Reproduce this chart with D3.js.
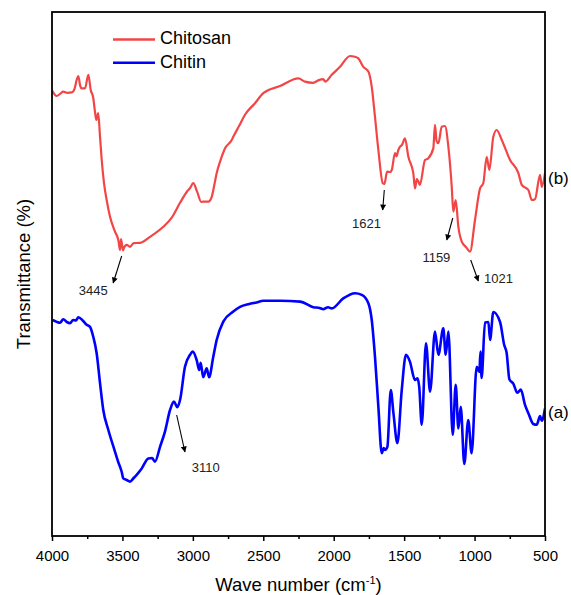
<!DOCTYPE html>
<html>
<head>
<meta charset="utf-8">
<script src="https://cdn.jsdelivr.net/npm/d3@7"></script>
<style>
  html, body { margin: 0; padding: 0; background: #fff; }
  svg { display: block; font-family: "Liberation Sans", Arial, sans-serif; }
</style>
</head>
<body>
<svg id="chart" width="571" height="595"></svg>
<script>
// FTIR spectra: wavenumber (cm-1) and transmittance (arbitrary offset, %)
const chitosanWave = [3998,3967,3940,3920,3890,3860,3840,3825,3813,3800,3790,3766,3742,3725,3707,3695,3685,3672,3659,3647,3631,3612,3588,3553,3529,3517,3510,3505,3495,3490,3470,3446,3420,3375,3304,3210,3150,3091,3040,3020,2997,2970,2940,2926,2890,2866,2843,2831,2807,2772,2724,2713,2670,2630,2559,2500,2381,2251,2204,2145,2110,2074,2060,2014,1955,1884,1850,1825,1790,1754,1730,1707,1683,1652,1640,1621,1600,1588,1565,1555,1541,1530,1515,1494,1470,1435,1423,1410,1399,1388,1352,1330,1293,1281,1270,1257,1233,1210,1186,1162,1151,1134,1115,1091,1060,1032,997,961,938,914,895,867,843,807,748,689,665,618,594,571,535,523,500];
const chitosanT = [111.3,110,110.6,111.1,110.8,110.9,111.8,114,115,112.6,111.9,111.9,115.3,111.5,109.5,106.1,104,105.7,99.8,94,88.3,84,79.8,76.1,74,71.5,74.2,73.3,71.4,72,72.8,72.3,73.2,73.3,74.8,77.3,79.6,83.3,86.2,87,88.2,86.1,83.5,83.6,83.6,84.8,88.6,90.7,93.6,96.9,99,99.8,102.6,105.3,108.2,110.7,112.5,114.4,113.6,113.3,113.9,114.2,113.6,115.3,117.3,120,119.8,119.4,117.3,116.1,112.3,104.8,96.5,88.2,88,91.1,91,91.5,95.7,94.9,96.5,97.3,97.8,99.4,94.8,90.7,86.9,89.2,88.6,87.8,94,94.4,96.9,102.8,98.8,98.2,102.3,102.5,97.3,87.3,81.1,84,77.3,73.6,72.2,71.1,79,86.9,88.2,94.8,91.5,99.8,101.5,99,94,90.7,87.8,86.5,84,84.2,90.3,87.3,90.7];

const chitinWave = [3995,3970,3943,3920,3895,3872,3850,3830,3813,3780,3754,3730,3707,3683,3659,3636,3600,3553,3540,3530,3517,3505,3494,3470,3446,3420,3399,3363,3316,3290,3269,3233,3198,3162,3134,3110,3091,3056,3020,3001,2973,2955,2945,2926,2902,2885,2855,2831,2784,2713,2665,2600,2547,2500,2381,2239,2145,2100,2074,2040,2014,1932,1849,1801,1754,1730,1707,1683,1659,1645,1636,1619,1595,1576,1548,1517,1487,1459,1423,1405,1393,1375,1345,1316,1281,1257,1222,1205,1186,1155,1134,1115,1098,1073,1045,1021,985,966,958,950,926,902,890,867,819,790,772,753,725,696,672,642,618,583,559,535,523,500];
const chitinT = [54,53.6,53.3,54.2,53.5,53.2,54,53.9,54.7,53.8,52.8,52.3,49.8,45.7,38.2,31.5,26.5,21.1,19.6,18.5,17.3,16,14.4,14,13.6,14.5,15.3,16.9,19.4,19.5,18.6,22.3,26.1,31.5,33.6,32.2,34,42.3,45.3,46.1,44,41.5,43.3,39.7,41.9,39.7,44.8,49,53.6,56.1,57.3,58,58.4,58.8,58.8,58.6,57.2,57,56.7,57.2,56.9,59.4,60.7,60.3,58.2,54,44.8,32.3,20.7,22,21.5,22.3,36.5,30.7,23.2,36.5,45.3,43.6,39,39.4,37.3,27.8,48.2,36.1,51.1,45.3,51.9,45.3,51.1,25.3,37.8,26.9,32.3,18,29,20.7,42.3,41,46.1,39.5,53.4,53.5,49,56,53.5,47.8,45.7,39.2,38.1,35.8,36.6,32.8,30.7,28,27.8,30,28.8,31.9];

const seriesNames = ["Chitosan", "Chitin"];
const seriesTags = ["(b)", "(a)"];
const xTicks = [4000, 3500, 3000, 2500, 2000, 1500, 1000, 500];
const peakLabels = ["3445", "1621", "1159", "1021", "3110"];

const colors = { Chitosan: "#F24646", Chitin: "#0000FF" };

const svg = d3.select("#chart");
const plot = { left: 52, right: 545, top: 12, bottom: 536 };

const x = d3.scaleLinear().domain([4000, 500]).range([plot.left, plot.right]);
const y = d3.scaleLinear().domain([0, 131]).range([plot.bottom, plot.top]);

const series = [
  { name: seriesNames[0], tag: seriesTags[0], pts: chitosanWave.map((w, i) => [w, chitosanT[i]]), width: 2.2, tagDy: 6.5 },
  { name: seriesNames[1], tag: seriesTags[1], pts: chitinWave.map((w, i) => [w, chitinT[i]]), width: 2.6, tagDy: 5.5 }
];

const defs = svg.append("defs");
defs.append("clipPath").attr("id", "clip")
  .append("rect")
  .attr("x", plot.left).attr("y", plot.top)
  .attr("width", plot.right - plot.left).attr("height", plot.bottom - plot.top);

const marker = defs.append("marker")
  .attr("id", "arrowhead")
  .attr("viewBox", "0 0 10 10")
  .attr("refX", 9).attr("refY", 5)
  .attr("markerWidth", 7).attr("markerHeight", 6)
  .attr("markerUnits", "userSpaceOnUse")
  .attr("orient", "auto");
marker.append("path").attr("d", "M0,0 L10,5 L0,10 Z").attr("fill", "#000");

const line = d3.line().x(d => x(d[0])).y(d => y(d[1])).curve(d3.curveMonotoneX);

svg.append("g").attr("clip-path", "url(#clip)")
  .selectAll("path").data(series).join("path")
  .attr("d", d => line(d.pts))
  .attr("fill", "none")
  .attr("stroke", d => colors[d.name])
  .attr("stroke-width", d => d.width)
  .attr("stroke-linejoin", "round");

// series tags at the right end
svg.selectAll("text.tag").data(series).join("text")
  .attr("class", "tag")
  .attr("x", plot.right + 3)
  .attr("y", d => y(d.pts[d.pts.length - 1][1]) + d.tagDy)
  .attr("dominant-baseline", "middle")
  .attr("font-size", 17)
  .text(d => d.tag);

// frame
svg.append("rect")
  .attr("x", plot.left).attr("y", plot.top)
  .attr("width", plot.right - plot.left).attr("height", plot.bottom - plot.top)
  .attr("fill", "none").attr("stroke", "#000").attr("stroke-width", 1.8);

// bottom axis with minor ticks
const minor = d3.range(4000, 499, -250).filter(v => !xTicks.includes(v));
svg.append("g").attr("transform", `translate(0,${plot.bottom})`)
  .call(d3.axisBottom(x).tickValues(minor).tickSize(3).tickFormat(""))
  .call(g => g.select(".domain").remove())
  .call(g => g.selectAll("line").attr("stroke-width", 1.5));
const xAxis = svg.append("g").attr("transform", `translate(0,${plot.bottom})`)
  .call(d3.axisBottom(x).tickValues(xTicks).tickSize(5).tickPadding(9).tickFormat(d3.format("d")));
xAxis.select(".domain").remove();
xAxis.selectAll("line").attr("stroke-width", 1.5);
xAxis.selectAll("text").attr("font-size", 15).attr("font-family", "Liberation Sans, Arial, sans-serif").attr("fill", "#000");

// axis titles
const xTitle = svg.append("text")
  .attr("x", (plot.left + plot.right) / 2).attr("y", 591)
  .attr("text-anchor", "middle").attr("font-size", 18.5);
xTitle.append("tspan").text("Wave number (cm");
xTitle.append("tspan").attr("font-size", 11).attr("dy", -7).text("-1");
xTitle.append("tspan").attr("dy", 7).text(")");

svg.append("text")
  .attr("transform", `translate(30,${(plot.top + plot.bottom) / 2}) rotate(-90)`)
  .attr("text-anchor", "middle").attr("font-size", 18.5)
  .text("Transmittance (%)");

// legend
const legend = svg.append("g");
seriesNames.forEach((name, i) => {
  const ly = 39.5 + i * 23.3;
  legend.append("line").attr("x1", 113).attr("x2", 155).attr("y1", ly).attr("y2", ly)
    .attr("stroke", colors[name]).attr("stroke-width", 2.6);
  legend.append("text").attr("x", 160).attr("y", ly).attr("dominant-baseline", "middle")
    .attr("font-size", 18).text(name);
});

// peak annotations: arrow offsets from the marked wavenumber
const peakLayout = {
  "3445": { y1: 256, y2: 283, dx1: -8.5, dx2: -17, tx: -37, ty: 295, anchor: "middle" },
  "1621": { y1: 190, y2: 210, dx1: -2.8, dx2: -4.4, tx: -20.7, ty: 228, anchor: "middle" },
  "1159": { y1: 218, y2: 240, dx1: 0.6, dx2: -5.4, tx: -15.8, ty: 262, anchor: "middle" },
  "1021": { y1: 260, y2: 281, dx1: -0.9, dx2: 6.7, tx: 12.5, ty: 283, anchor: "start" },
  "3110": { y1: 415, y2: 452, dx1: -0.7, dx2: 7.6, tx: 28.3, ty: 472, anchor: "middle" }
};
const ann = svg.append("g");
peakLabels.forEach(lbl => {
  const L = peakLayout[lbl];
  const px = x(+lbl);
  ann.append("line")
    .attr("x1", px + L.dx1).attr("y1", L.y1)
    .attr("x2", px + L.dx2).attr("y2", L.y2)
    .attr("stroke", "#000").attr("stroke-width", 1.1)
    .attr("marker-end", "url(#arrowhead)");
  ann.append("text").attr("x", px + L.tx).attr("y", L.ty)
    .attr("text-anchor", L.anchor).attr("font-size", 13).attr("fill", "#222")
    .text(lbl);
});
</script>
</body>
</html>
